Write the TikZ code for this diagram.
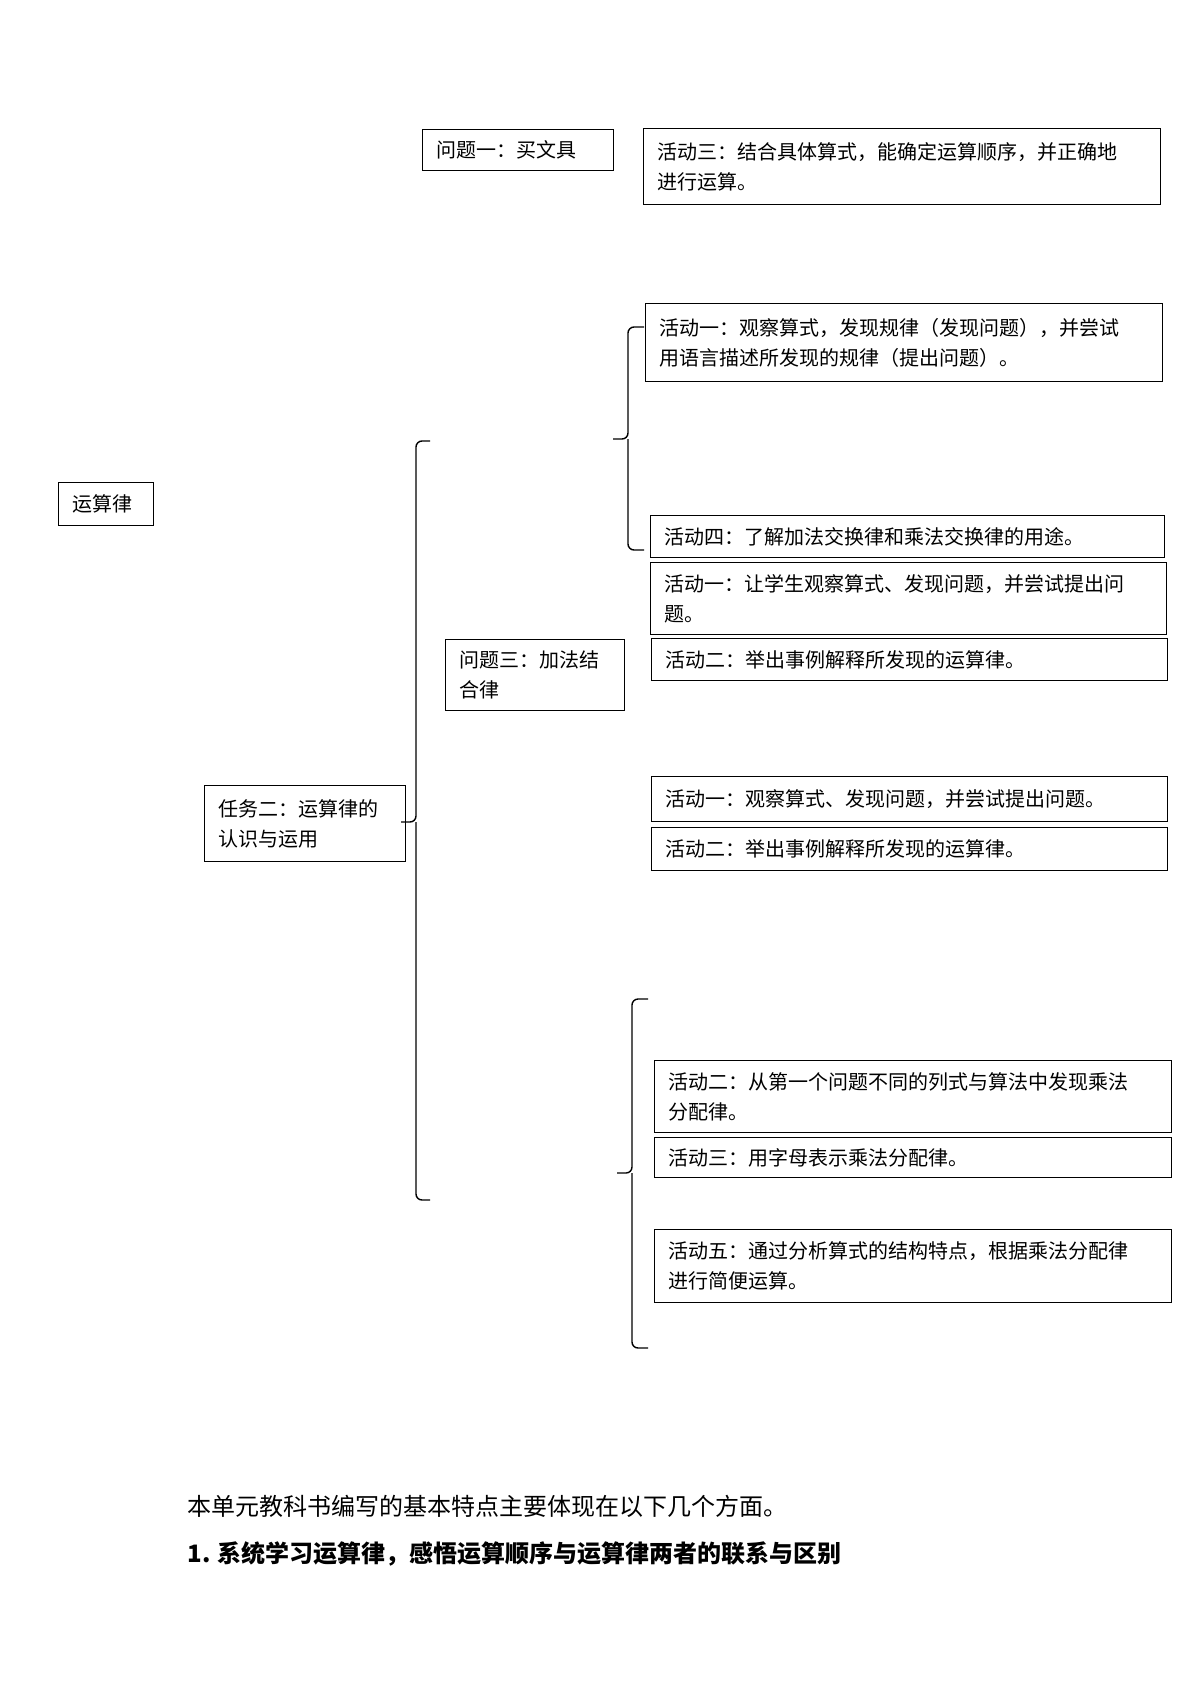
\documentclass[tikz,border=0pt]{standalone}
\usepackage{fontspec}
\setmainfont{Noto Sans CJK SC}
\tikzset{
  box/.style={draw, line width=0.6pt, anchor=north west, align=left, inner xsep=7pt, inner ysep=0pt,
    font=\fontsize{10}{15}\selectfont},
  brace/.style={draw, line width=0.7pt, rounded corners=3pt}
}
% box: name, top-left corner (px), text width (pt), height (pt), text
\newcommand{\actbox}[5]{\node[box, text width=#3pt, minimum height=#4pt] (#1) at (#2) {#5};}
\begin{document}
\begin{tikzpicture}[x=0.5pt,y=-0.5pt]
\useasboundingbox (0,0) rectangle (1200,1696);

% boxes
\actbox{qone}{422,129}{81.5}{20.5}{问题一：买文具}
\actbox{actthreetop}{643,128}{244.5}{38}{活动三：结合具体算式，能确定运算顺序，并正确地\\进行运算。}
\actbox{root}{58,482}{33.5}{21.5}{运算律}
\actbox{tasktwo}{204,785}{86.5}{38}{任务二：运算律的\\认识与运用}
\actbox{actoneA}{645,303}{244.5}{39}{活动一：观察算式，发现规律（发现问题），并尝试\\用语言描述所发现的规律（提出问题）。}
\actbox{actfourA}{650,515}{243}{21}{活动四：了解加法交换律和乘法交换律的用途。}
\actbox{qthree}{445,639}{75.5}{35.5}{问题三：加法结\\合律}
\actbox{actoneB}{650,562}{244}{36}{活动一：让学生观察算式、发现问题，并尝试提出问\\题。}
\actbox{acttwoB}{651,638}{244}{21}{活动二：举出事例解释所发现的运算律。}
\actbox{actoneC}{651,776}{244}{22.5}{活动一：观察算式、发现问题，并尝试提出问题。}
\actbox{acttwoC}{651,827}{244}{21.5}{活动二：举出事例解释所发现的运算律。}
\actbox{acttwoD}{654,1060}{244.5}{36}{活动二：从第一个问题不同的列式与算法中发现乘法\\分配律。}
\actbox{actthreeD}{654,1137}{244.5}{20}{活动三：用字母表示乘法分配律。}
\actbox{actfiveD}{654,1229}{244.5}{36.5}{活动五：通过分析算式的结构特点，根据乘法分配律\\进行简便运算。}

% braces
\draw[brace] (644,327) -- (628,327) -- (628,439) -- (613,439) (628,439) -- (628,550) -- (644,550);
\draw[brace] (430,441) -- (416,441) -- (416,822) -- (401,822) (416,822) -- (416,1200) -- (430,1200);
\draw[brace] (648,999) -- (632,999) -- (632,1173) -- (617,1173) (632,1173) -- (632,1348) -- (648,1348);

% text below
\node[anchor=west, font=\fontsize{12}{15}\selectfont, inner sep=0pt] (introtext) at (187,1506) {本单元教科书编写的基本特点主要体现在以下几个方面。};
\node[anchor=west, font=\fontsize{12}{15}\selectfont\bfseries, inner sep=0pt] (pointone) at (187,1554) {1. 系统学习运算律，感悟运算顺序与运算律两者的联系与区别};
\end{tikzpicture}
\end{document}
